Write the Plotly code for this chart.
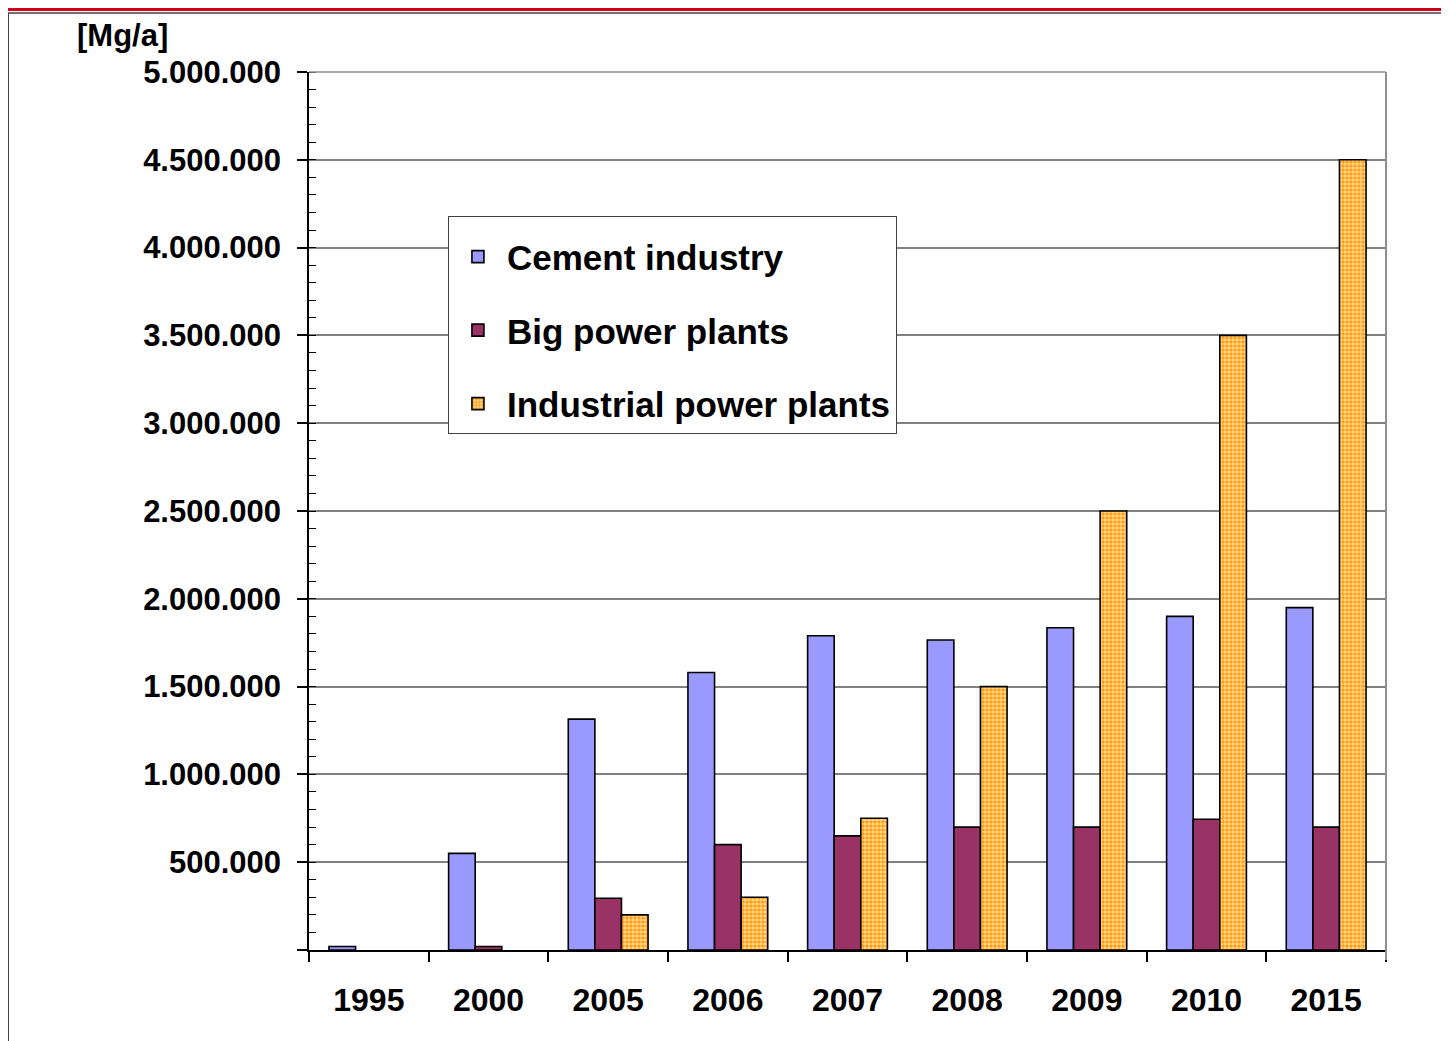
import plotly.graph_objects as go

categories = ["1995", "2000", "2005", "2006", "2007", "2008", "2009", "2010", "2015"]
cement = [20000, 550000, 1315000, 1580000, 1790000, 1765000, 1835000, 1900000, 1950000]
big_power = [None, 20000, 295000, 600000, 650000, 700000, 700000, 745000, 700000]
industrial = [None, None, 200000, 300000, 750000, 1500000, 2500000, 3500000, 4500000]
series_names = ["Cement industry", "Big power plants", "Industrial power plants"]
y_tickvals = [0, 500000, 1000000, 1500000, 2000000, 2500000, 3000000, 3500000, 4000000, 4500000, 5000000]
y_ticktext = ["" if v == 0 else f"{v:,}".replace(",", ".") for v in y_tickvals]
y_unit = "[Mg/a]"

FONT = "Liberation Sans, Arial, sans-serif"
W, H = 1441, 1033
L, T, PW, PH = 301, 64, 1077, 878
R, B = W - L - PW, H - T - PH

fig = go.Figure()
fig.add_trace(go.Bar(x=categories, y=cement, name=series_names[0], legendgroup="a",
                     marker=dict(color="#9999FF", line=dict(color="black", width=1.6))))
fig.add_trace(go.Bar(x=categories, y=big_power, name=series_names[1], legendgroup="b",
                     marker=dict(color="#993366", line=dict(color="black", width=1.6))))
fig.add_trace(go.Bar(x=categories, y=industrial, name=series_names[2], legendgroup="c",
                     marker=dict(color="#FFDC92", line=dict(color="black", width=1.6),
                                 pattern=dict(shape=".", fgcolor="#FF9F1A", bgcolor="#FFDC92",
                                              size=4, solidity=0.6, fillmode="replace"))))

fig.update_layout(
    width=W, height=H,
    margin=dict(l=L, r=R, t=T, b=B),
    paper_bgcolor="white", plot_bgcolor="white",
    barmode="group", bargap=1/3, bargroupgap=0,
    font=dict(family=FONT, color="black"),
    showlegend=True,
    legend=dict(x=0.129, y=0.836, xanchor="left", yanchor="top",
                bgcolor="white", bordercolor="#404040", borderwidth=1,
                title=dict(text=" ", font=dict(size=8)),
                font=dict(size=35, family=FONT, weight="bold", color="black"),
                traceorder="grouped", tracegroupgap=25, itemwidth=48),
    xaxis=dict(type="category", showline=True, linecolor="black", linewidth=1.5,
               ticks="outside", tickson="boundaries", ticklen=10, tickcolor="black", tickwidth=1.5,
               tickfont=dict(size=32, family=FONT, weight="bold", color="black"),
               ticklabelstandoff=21, showgrid=False),
    yaxis=dict(range=[0, 5000000], tickmode="array", tickvals=y_tickvals, ticktext=y_ticktext,
               showline=True, linecolor="black", linewidth=1.5,
               ticks="outside", ticklen=10, tickcolor="black", tickwidth=1.5,
               tickfont=dict(size=31, family=FONT, weight="bold", color="black"),
               ticklabelstandoff=10,
               showgrid=True, gridcolor="#808080", gridwidth=1.5, zeroline=False,
               minor=dict(tickmode="linear", tick0=0, dtick=100000, ticks="inside",
                          ticklen=7, tickcolor="black", tickwidth=1.2, showgrid=False)),
)

# frame / decoration
fig.add_shape(type="line", xref="x domain", yref="y domain", x0=1, x1=1, y0=-10/PH, y1=1,
              line=dict(color="#909090", width=2))
fig.add_shape(type="line", xref="x domain", yref="y domain", x0=0, x1=1, y0=1, y1=1,
              line=dict(color="#909090", width=1.5))
fig.add_shape(type="rect", xref="paper", yref="paper", x0=-L/PW, x1=1 + R/PW,
              y0=1 + (T - 3)/PH, y1=1 + T/PH, line=dict(width=0), fillcolor="#D0021B")
fig.add_shape(type="line", xref="paper", yref="paper", x0=-L/PW, x1=-L/PW,
              y0=-B/PH, y1=1 + (T - 5)/PH, line=dict(color="#404040", width=2))
fig.add_shape(type="line", xref="paper", yref="paper", x0=-L/PW, x1=1 + R/PW,
              y0=1 + (T - 5)/PH, y1=1 + (T - 5)/PH, line=dict(color="#404040", width=1.5))

fig.add_annotation(text=y_unit, xref="paper", yref="paper", x=-234/PW, y=1 + 37/PH,
                   xanchor="left", yanchor="middle", showarrow=False,
                   font=dict(size=31, family=FONT, weight="bold", color="black"))

fig.write_html("out.html")
